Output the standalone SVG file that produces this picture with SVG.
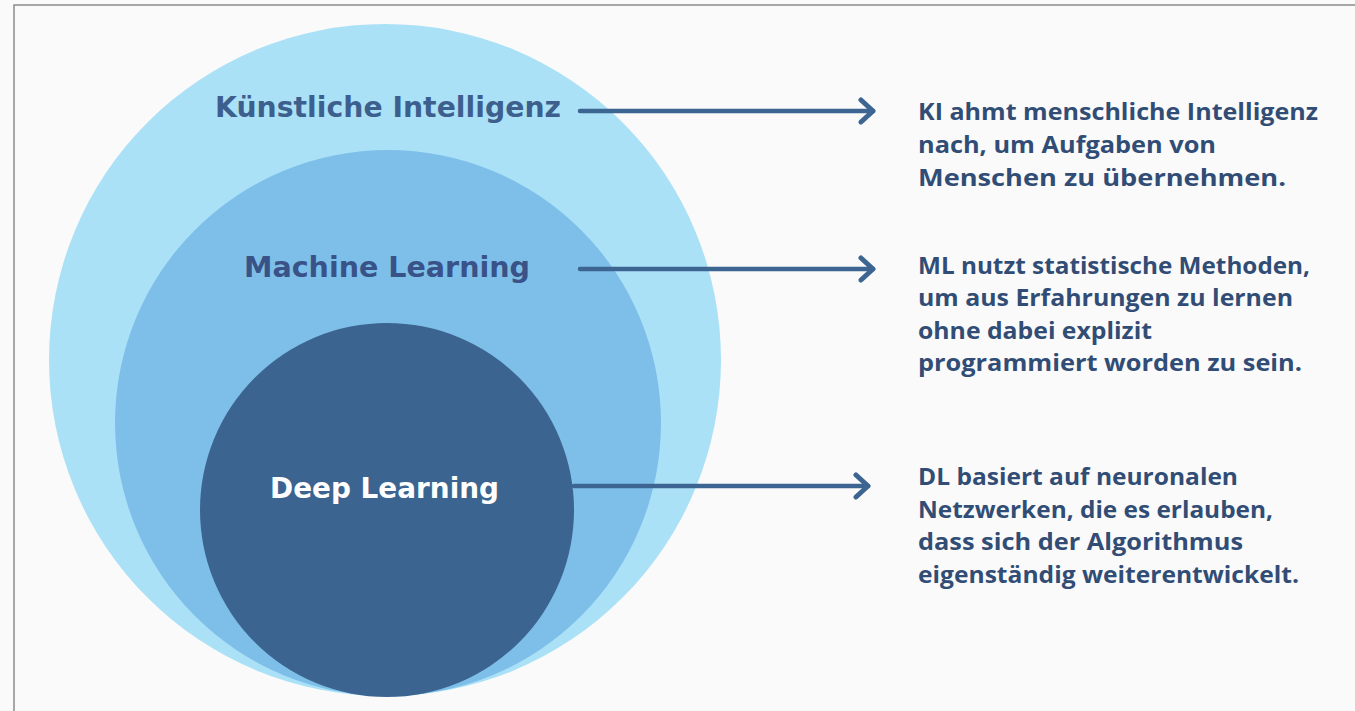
<svg xmlns="http://www.w3.org/2000/svg" width="1355" height="711" viewBox="0 0 1355 711">
<defs>
<style>
.title{font-family:"DejaVu Sans","Open Sans",sans-serif;font-weight:bold;font-size:29px}
.desc{font-family:"Open Sans","DejaVu Sans",sans-serif;font-weight:700;font-size:23px;fill:#314d75}
.conn{stroke:#3c6592;stroke-width:4.5;fill:none;stroke-linecap:round;stroke-linejoin:round}
</style>
<marker id="chev" markerUnits="userSpaceOnUse" markerWidth="30" markerHeight="30" refX="27" refY="15" orient="auto" viewBox="0 0 30 30">
<path d="M15 4 L27 15 L15 26" fill="none" stroke="#3c6592" stroke-width="5" stroke-linecap="round" stroke-linejoin="round"/>
</marker>
</defs>
<rect x="0" y="0" width="1355" height="711" fill="#fafafa"/>
<path d="M14 711 L14 5 L1355 5" fill="none" stroke="#8c8c8c" stroke-width="1.5"/>
<g id="ki">
<circle cx="385" cy="360" r="336" fill="#abe1f7"/>
<text class="title" x="215" y="117" fill="#3d5f8e" textLength="346" lengthAdjust="spacingAndGlyphs">Künstliche Intelligenz</text>
</g>
<g id="ml">
<circle cx="388" cy="423" r="273" fill="#7ebfea"/>
<text class="title" x="244" y="277" fill="#395287" textLength="286" lengthAdjust="spacingAndGlyphs">Machine Learning</text>
</g>
<g id="dl">
<circle cx="387" cy="510" r="187" fill="#3b6490"/>
<text class="title" x="270" y="498" fill="#ffffff" textLength="229" lengthAdjust="spacingAndGlyphs">Deep Learning</text>
</g>
<g id="connectors">
<line class="conn" x1="580" y1="111" x2="873" y2="111" marker-end="url(#chev)"/>
<line class="conn" x1="580" y1="269" x2="873" y2="269" marker-end="url(#chev)"/>
<line class="conn" x1="574" y1="486" x2="868" y2="486" marker-end="url(#chev)"/>
</g>
<g id="ki-desc">
<text class="desc" x="918" y="120" textLength="400" lengthAdjust="spacingAndGlyphs">KI ahmt menschliche Intelligenz</text>
<text class="desc" x="918" y="153" textLength="298" lengthAdjust="spacingAndGlyphs">nach, um Aufgaben von</text>
<text class="desc" x="918" y="186" textLength="368" lengthAdjust="spacingAndGlyphs">Menschen zu übernehmen.</text>
</g>
<g id="ml-desc">
<text class="desc" x="918" y="274" textLength="392" lengthAdjust="spacingAndGlyphs">ML nutzt statistische Methoden,</text>
<text class="desc" x="918" y="306" textLength="375" lengthAdjust="spacingAndGlyphs">um aus Erfahrungen zu lernen</text>
<text class="desc" x="918" y="339" textLength="234" lengthAdjust="spacingAndGlyphs">ohne dabei explizit</text>
<text class="desc" x="918" y="371" textLength="384" lengthAdjust="spacingAndGlyphs">programmiert worden zu sein.</text>
</g>
<g id="dl-desc">
<text class="desc" x="918" y="485" textLength="320" lengthAdjust="spacingAndGlyphs">DL basiert auf neuronalen</text>
<text class="desc" x="918" y="518" textLength="355" lengthAdjust="spacingAndGlyphs">Netzwerken, die es erlauben,</text>
<text class="desc" x="918" y="550" textLength="325" lengthAdjust="spacingAndGlyphs">dass sich der Algorithmus</text>
<text class="desc" x="918" y="583" textLength="381" lengthAdjust="spacingAndGlyphs">eigenständig weiterentwickelt.</text>
</g>
</svg>
